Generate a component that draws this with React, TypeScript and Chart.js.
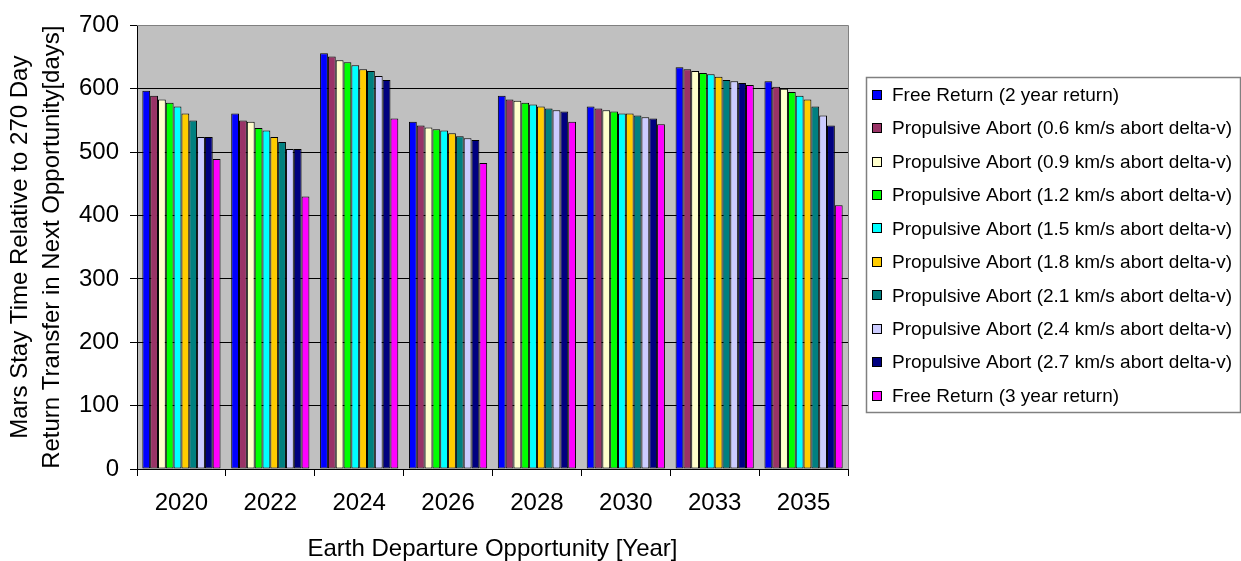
import React, { useEffect, useRef } from "react";
import { Chart, registerables } from "chart.js";

Chart.register(...registerables);

const categories = ["2020", "2022", "2024", "2026", "2028", "2030", "2033", "2035"];

const seriesNames = [
  "Free Return (2 year return)",
  "Propulsive Abort (0.6 km/s abort delta-v)",
  "Propulsive Abort (0.9 km/s abort delta-v)",
  "Propulsive Abort (1.2 km/s abort delta-v)",
  "Propulsive Abort (1.5 km/s abort delta-v)",
  "Propulsive Abort (1.8 km/s abort delta-v)",
  "Propulsive Abort (2.1 km/s abort delta-v)",
  "Propulsive Abort (2.4 km/s abort delta-v)",
  "Propulsive Abort (2.7 km/s abort delta-v)",
  "Free Return (3 year return)",
];

const seriesColors = [
  "#0000FF",
  "#993366",
  "#FFFFCC",
  "#00FF00",
  "#00FFFF",
  "#FFCC00",
  "#008080",
  "#CCCCFF",
  "#000080",
  "#FF00FF",
];

const freeReturn2yr = [597, 561, 656, 548, 589, 572, 634, 612];
const abort06 = [589, 550, 651, 542, 583, 569, 631, 603];
const abort09 = [583, 548, 645, 539, 581, 566, 628, 600];
const abort12 = [578, 538, 642, 536, 578, 564, 625, 595];
const abort15 = [572, 534, 637, 534, 575, 561, 623, 589];
const abort18 = [561, 524, 631, 530, 572, 561, 619, 583];
const abort21 = [550, 516, 628, 525, 569, 558, 614, 572];
const abort24 = [524, 505, 620, 522, 566, 555, 612, 558];
const abort27 = [524, 505, 614, 519, 564, 553, 609, 542];
const freeReturn3yr = [489, 430, 553, 483, 548, 544, 606, 416];

const seriesValues = [
  freeReturn2yr,
  abort06,
  abort09,
  abort12,
  abort15,
  abort18,
  abort21,
  abort24,
  abort27,
  freeReturn3yr,
];

const yTicks = [0, 100, 200, 300, 400, 500, 600, 700];

const FONT = "'Liberation Sans', Arial, sans-serif";

const plotFramePlugin = {
  id: "plotFrame",
  beforeDraw(chart: any) {
    const { ctx, chartArea } = chart;
    ctx.save();
    ctx.fillStyle = "#C0C0C0";
    ctx.fillRect(chartArea.left, chartArea.top, chartArea.right - chartArea.left, chartArea.bottom - chartArea.top);
    ctx.restore();
  },
  afterDraw(chart: any) {
    const { ctx, chartArea } = chart;
    ctx.save();
    ctx.strokeStyle = "#808080";
    ctx.lineWidth = 1;
    ctx.beginPath();
    ctx.moveTo(chartArea.left, Math.round(chartArea.top) + 0.5);
    ctx.lineTo(Math.round(chartArea.right) + 0.5, Math.round(chartArea.top) + 0.5);
    ctx.lineTo(Math.round(chartArea.right) + 0.5, chartArea.bottom);
    ctx.stroke();
    ctx.restore();
  },
};

const boxLegendPlugin = {
  id: "boxLegend",
  afterDraw(chart: any) {
    const { ctx } = chart;
    const left = 866.5;
    const top = 77.5;
    const right = 1240.5;
    const bottom = 412.5;
    ctx.save();
    ctx.strokeStyle = "#808080";
    ctx.lineWidth = 1.5;
    ctx.strokeRect(left, top, right - left, bottom - top);
    ctx.font = `19px ${FONT}`;
    ctx.textBaseline = "middle";
    ctx.textAlign = "left";
    chart.data.datasets.forEach((ds: any, i: number) => {
      const cy = 95.2 + i * 33.43;
      ctx.fillStyle = ds.backgroundColor;
      ctx.fillRect(873, Math.round(cy - 4.5), 8, 8);
      ctx.strokeStyle = "#000";
      ctx.lineWidth = 1;
      ctx.strokeRect(872.5, Math.round(cy - 4.5) - 0.5, 9, 9);
      ctx.fillStyle = "#000";
      ctx.fillText(ds.label, 892, cy + 0.5);
    });
    ctx.restore();
  },
};

export default function App() {
  const canvasRef = useRef<HTMLCanvasElement | null>(null);

  useEffect(() => {
    if (!canvasRef.current) return;
    const chart = new Chart(canvasRef.current, {
      type: "bar",
      data: {
        labels: categories,
        datasets: seriesNames.map((name, i) => ({
          label: name,
          data: seriesValues[i],
          backgroundColor: seriesColors[i],
          borderColor: "#000000",
          borderWidth: 1,
          borderSkipped: false,
          categoryPercentage: 0.88,
          barPercentage: 1.0,
        })),
      },
      options: {
        animation: false,
        responsive: false,
        maintainAspectRatio: false,
        layout: { padding: { left: 0, top: 22, right: 393, bottom: 0 } },
        plugins: {
          legend: { display: false },
          tooltip: { enabled: false },
        },
        scales: {
          x: {
            afterFit(scale: any) {
              scale.height = 92;
            },
            grid: {
              drawOnChartArea: false,
              drawTicks: true,
              tickLength: 7,
              color: "#000000",
              offset: true,
            },
            border: { display: true, color: "#000000", width: 1 },
            ticks: {
              color: "#000000",
              font: { family: FONT, size: 24 },
              padding: 13,
            },
            title: {
              display: true,
              text: "Earth Departure Opportunity [Year]",
              color: "#000000",
              font: { family: FONT, size: 24, lineHeight: 0.96 },
              padding: { top: 0, bottom: 0 },
            },
          },
          y: {
            min: 0,
            max: 700,
            afterFit(scale: any) {
              scale.width = 137;
            },
            afterBuildTicks(scale: any) {
              scale.ticks = yTicks.map((v) => ({ value: v }));
            },
            grid: {
              drawTicks: true,
              tickLength: 7,
              color: (c: any) => (c.tick && c.tick.value === 700 ? "#808080" : "#000000"),
              tickColor: "#000000",
            },
            border: { display: true, color: "#000000", width: 1 },
            ticks: {
              color: "#000000",
              font: { family: FONT, size: 24 },
              padding: 11,
            },
            title: {
              display: true,
              text: ["Mars Stay Time Relative to 270 Day", "Return Transfer in Next Opportunity[days]"],
              color: "#000000",
              font: { family: FONT, size: 24, lineHeight: 1.333 },
              padding: { top: 4, bottom: 0 },
            },
          },
        },
      },
      plugins: [plotFramePlugin, boxLegendPlugin],
    });
    return () => chart.destroy();
  }, []);

  return (
    <div style={{ position: "fixed", left: 0, top: 0, width: 1241, height: 561, background: "#fff" }}>
      <canvas ref={canvasRef} width={1241} height={561} style={{ display: "block" }} />
    </div>
  );
}
